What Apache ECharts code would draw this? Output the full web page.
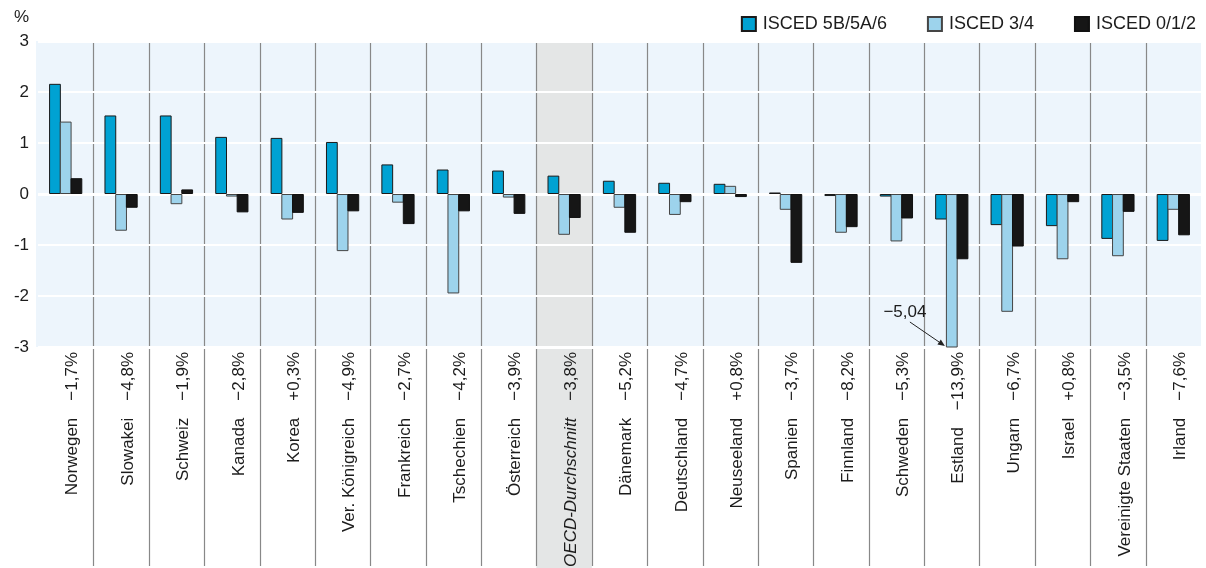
<!DOCTYPE html>
<html>
<head>
<meta charset="utf-8">
<script src="https://cdn.jsdelivr.net/npm/echarts@6/dist/echarts.min.js"></script>
<style>html,body{margin:0;padding:0;background:#fff}#c{width:1206px;height:568px}</style>
</head>
<body>
<div id="c"></div>
<script>
// ---- data ----
const countries = ['Norwegen','Slowakei','Schweiz','Kanada','Korea','Ver. Königreich','Frankreich','Tschechien','Österreich','OECD-Durchschnitt','Dänemark','Deutschland','Neuseeland','Spanien','Finnland','Schweden','Estland','Ungarn','Israel','Vereinigte Staaten','Irland'];
const changes = ['\u22121,7%','\u22124,8%','\u22121,9%','\u22122,8%','+0,3%','\u22124,9%','\u22122,7%','\u22124,2%','\u22123,9%','\u22123,8%','\u22125,2%','\u22124,7%','+0,8%','\u22123,7%','\u22128,2%','\u22125,3%','\u221213,9%','\u22126,7%','+0,8%','\u22123,5%','\u22127,6%'];
const isced56  = [2.16, 1.54, 1.54, 1.12, 1.10, 1.02, 0.58, 0.48, 0.46, 0.36, 0.26, 0.22, 0.20, 0.03, -0.04, -0.05, -0.50, -0.61, -0.63, -0.88, -0.92];
const isced34  = [1.42, -0.72, -0.20, -0.05, -0.50, -1.12, -0.17, -1.95, -0.07, -0.80, -0.27, -0.41, 0.16, -0.31, -0.76, -0.93, -5.04, -2.31, -1.28, -1.22, -0.31];
const isced012 = [0.31, -0.27, 0.09, -0.36, -0.37, -0.34, -0.59, -0.34, -0.39, -0.47, -0.76, -0.16, -0.06, -1.35, -0.65, -0.48, -1.28, -1.03, -0.16, -0.35, -0.81];
const seriesNames = ['ISCED 5B/5A/6', 'ISCED 3/4', 'ISCED 0/1/2'];
const yMin = -3, yMax = 3, yInterval = 1;
const highlightCategory = 'OECD-Durchschnitt';
const annotatedCategory = 'Estland';

// ---- chart ----
const FONT = '"Liberation Sans", Arial, sans-serif';
const TXT = '#1c1c1c';
const chart = echarts.init(document.getElementById('c'), null, {renderer: 'canvas'});

function barSeries(name, data, fill, border) {
  return {
    name: name, type: 'bar', data: data, yAxisIndex: 0,
    barGap: '-9%', barCategoryGap: '40%', clip: true,
    itemStyle: {color: fill, borderColor: border, borderWidth: 1},
    emphasis: {disabled: true}
  };
}

const option = {
  animation: false,
  textStyle: {fontFamily: FONT},
  legend: {
    right: 5, top: 10, itemWidth: 14, itemHeight: 14, itemGap: 40,
    icon: 'rect',
    textStyle: {fontFamily: FONT, fontSize: 18, color: TXT, padding: [0, 0, 0, 2]},
    data: seriesNames
  },
  grid: {left: 38, right: 5, top: 41, bottom: 221, containLabel: false, outerBoundsMode: 'none'},
  xAxis: {
    type: 'category', data: countries,
    axisLine: {show: false}, axisTick: {show: false}, splitLine: {show: false},
    axisLabel: {
      interval: 0, rotate: 90, margin: 5, fontSize: 17, color: TXT, fontFamily: FONT,
      padding: [14, 0, 0, 0],
      formatter: function (v) {
        const idx = countries.indexOf(v);
        if (v === highlightCategory) return '{it|' + v + '}\u2002\u2002' + changes[idx];
        return v + '\u2002\u2002' + changes[idx];
      },
      rich: {it: {fontStyle: 'italic', fontSize: 17, color: TXT, fontFamily: FONT}}
    }
  },
  yAxis: [
    {
      type: 'value', min: yMin, max: yMax, interval: yInterval,
      name: '%', nameLocation: 'end', nameGap: 15,
      nameTextStyle: {fontFamily: FONT, fontSize: 17, color: TXT, align: 'right', padding: [0, 9, 0, 0]},
      axisLine: {show: false}, axisTick: {show: false},
      axisLabel: {fontSize: 17, color: TXT, margin: 9, fontFamily: FONT},
      splitLine: {lineStyle: {color: '#ffffff', width: 2}}
    },
    {
      type: 'value', min: yMin, max: yMax, interval: 3, position: 'left',
      axisLine: {show: false}, axisTick: {show: false}, axisLabel: {show: false},
      splitLine: {lineStyle: {color: '#ffffff', width: 3}}
    }
  ],
  series: [
    barSeries(seriesNames[0], isced56, '#00A2D3', '#1a1a1a'),
    barSeries(seriesNames[1], isced34, '#9DD3EC', '#454545'),
    barSeries(seriesNames[2], isced012, '#161616', '#111111')
  ]
};
chart.setOption(option);

// ---- decorations computed from the library's scales ----
const H = 568;
const centers = countries.map((c, i) => chart.convertToPixel({xAxisIndex: 0}, i));
const band = centers[1] - centers[0];
const yTop = chart.convertToPixel({yAxisIndex: 0}, yMax);
const yBot = chart.convertToPixel({yAxisIndex: 0}, yMin);
const graphics = [];
graphics.push({type: 'rect', silent: true, z: -3,
  shape: {x: centers[0] - band / 2 - 2, y: yTop, width: centers[centers.length - 1] - centers[0] + band + 2, height: yBot - yTop},
  style: {fill: '#EDF5FC'}});
const hi = countries.indexOf(highlightCategory);
graphics.push({type: 'rect', silent: true, z: -2,
  shape: {x: centers[hi] - band / 2, y: yTop, width: band, height: H - yTop},
  style: {fill: '#E4E6E6'}});
for (let i = 0; i < centers.length - 1; i++) {
  const x = Math.round((centers[i] + centers[i + 1]) / 2) + 0.5;
  graphics.push({type: 'line', silent: true, z: -1,
    shape: {x1: x, y1: yTop, x2: x, y2: H - 2},
    style: {stroke: '#888888', lineWidth: 1.2}});
}
// annotation for the clipped bar
const ai = countries.indexOf(annotatedCategory);
const lay = chart.getModel().getSeriesByIndex(1).getData().getItemLayout(ai);
const ex = lay.x - 1, ey = yBot - 1;
const sx = ex - 35, sy = ey - 24;
const ang = Math.atan2(ey - sy, ex - sx);
const hl = 7, hw = 3;
const bx = ex - hl * Math.cos(ang), by = ey - hl * Math.sin(ang);
graphics.push({type: 'line', silent: true, z: 5,
  shape: {x1: sx, y1: sy, x2: bx, y2: by}, style: {stroke: '#222', lineWidth: 1}});
graphics.push({type: 'polygon', silent: true, z: 5,
  shape: {points: [[ex, ey], [bx - hw * Math.sin(ang), by + hw * Math.cos(ang)], [bx + hw * Math.sin(ang), by - hw * Math.cos(ang)]]},
  style: {fill: '#222'}});
const annText = isced34[ai].toFixed(2).replace('.', ',').replace('-', '\u2212');
graphics.push({type: 'text', silent: true, z: 5,
  x: ex - 40, y: ey - 34,
  style: {text: annText, fill: TXT, font: '17px ' + FONT, textAlign: 'center', textVerticalAlign: 'middle'}});
chart.setOption({graphic: graphics});
</script>
</body>
</html>
